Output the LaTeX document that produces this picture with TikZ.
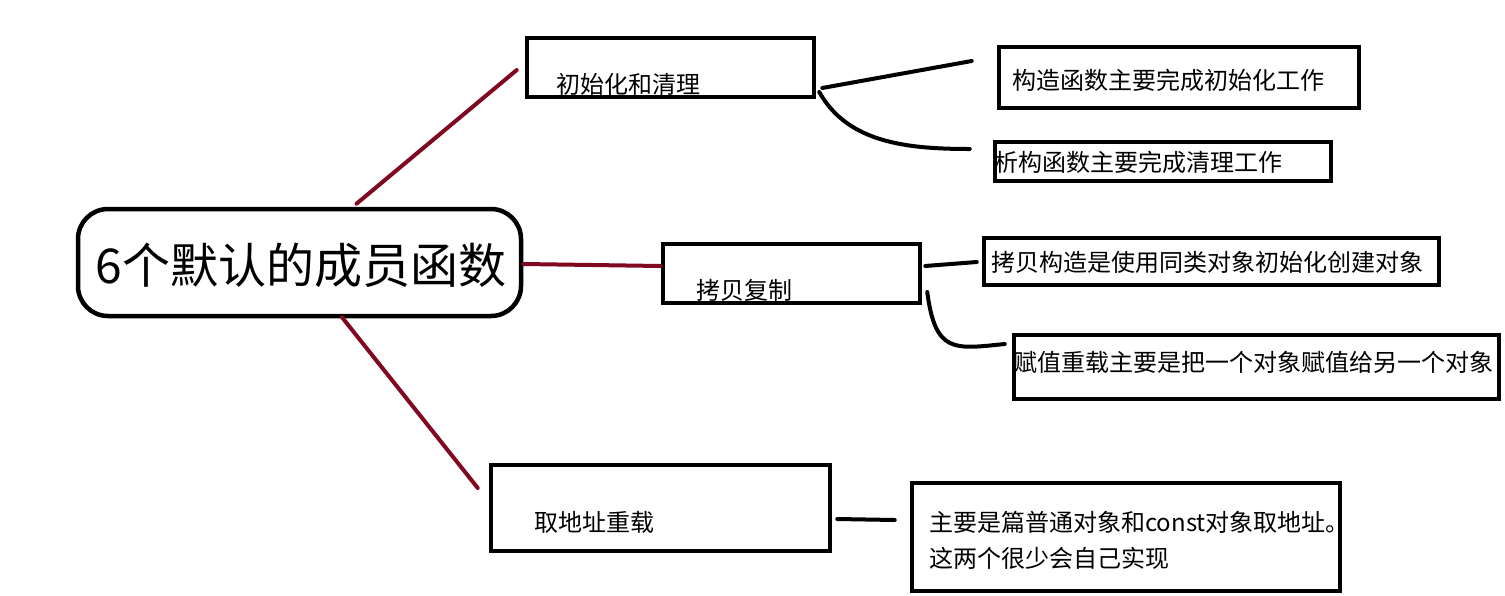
\documentclass[tikz,border=0pt]{standalone}
\usepackage{fontspec}
\setmainfont{Noto Sans CJK SC}
\usetikzlibrary{calc}
\definecolor{branch}{RGB}{128,8,32}
\tikzset{
  box/.style={draw=black, line width=4.5pt, inner sep=0pt, rectangle},
  mainbox/.style={box, rounded corners=30pt},
  txt/.style={inner sep=0pt, anchor=west, font=\fontsize{24}{36}\selectfont, text=black},
  redline/.style={draw=branch, line width=4pt, line cap=round},
  blackline/.style={draw=black, line width=4pt, line cap=round},
}
\begin{document}
\begin{tikzpicture}[x=1pt,y=-1pt]
\useasboundingbox (0,0) rectangle (1505,595);
\fill[white] (0,0) rectangle (1505,595);

% boxes
\node[mainbox, minimum width=443pt, minimum height=107pt] (main) at (299.5,262.5) {};
\node[box, minimum width=287pt, minimum height=59pt] (b1) at (670.5,67.5) {};
\node[box, minimum width=360pt, minimum height=61pt] (c1) at (1179,77.5) {};
\node[box, minimum width=336pt, minimum height=39pt] (c2) at (1163,161.5) {};
\node[box, minimum width=257pt, minimum height=59pt] (b2) at (791.5,273.5) {};
\node[box, minimum width=455pt, minimum height=47pt] (c3) at (1211.5,261.5) {};
\node[box, minimum width=485pt, minimum height=64pt] (c4) at (1256.5,367) {};
\node[box, minimum width=339pt, minimum height=86pt] (b3) at (660.5,508) {};
\node[box, minimum width=428pt, minimum height=108pt] (c5) at (1126,537) {};

% texts
\node[inner sep=0pt, font=\fontsize{48}{56}\selectfont] (tmain) at (301,265) {6个默认的成员函数};
\node[txt] (t1) at (556,84) {初始化和清理};
\node[txt] (tc1) at (1012,80) {构造函数主要完成初始化工作};
\node[txt] (tc2) at (994,162) {析构函数主要完成清理工作};
\node[txt] (t2) at (696,290) {拷贝复制};
\node[txt] (tc3) at (991,262) {拷贝构造是使用同类对象初始化创建对象};
\node[txt] (tc4) at (1013,362) {赋值重载主要是把一个对象赋值给另一个对象};
\node[txt] (t3) at (534,522) {取地址重载};
\node[txt, align=left] (tc5) at (929,540) {主要是篇普通对象和const对象取地址。\\这两个很少会自己实现};

% red branches
\draw[redline] ([xshift=57pt,yshift=3pt]main.north) -- ([xshift=-8pt,yshift=-2.5pt]b1.west);
\draw[redline] ([yshift=-1.5pt]main.east) -- ([yshift=7.5pt]b2.west);
\draw[redline] ([xshift=42.5pt,yshift=1pt]main.south) -- ([xshift=-11pt,yshift=20pt]b3.west);

% black connectors
\draw[blackline] ([xshift=6pt,yshift=-20.5pt]b1.east) -- ([xshift=-25pt,yshift=16.5pt]c1.west);
\draw[blackline] ([xshift=3pt,yshift=-24.5pt]b1.east) .. controls +(28,50) and +(-65,0) .. ([xshift=-23pt,yshift=12.5pt]c2.west);
\draw[blackline] ([xshift=3pt,yshift=7.5pt]b2.east) -- ([xshift=-5pt,yshift=-0.5pt]c3.west);
\draw[blackline] ([xshift=5pt,yshift=-18.5pt]b2.east) .. controls +(8,62) and +(-50,5) .. ([xshift=-7pt,yshift=23pt]c4.west);
\draw[blackline] ([xshift=5pt,yshift=-11pt]b3.east) -- ([xshift=-15pt,yshift=17pt]c5.west);
\end{tikzpicture}
\end{document}
